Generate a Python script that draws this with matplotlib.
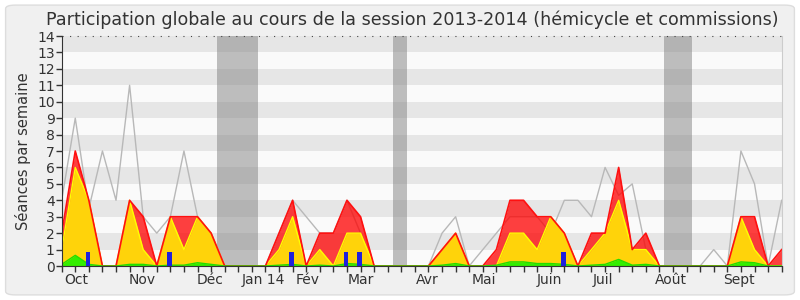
import numpy as np
import matplotlib
matplotlib.use("Agg")
import matplotlib.pyplot as plt
from matplotlib.patches import FancyBboxPatch

# weekly values, session 2013-2014 (one point per week)
weeks = np.arange(54)

# median of all deputies (gray line)
mediane = [4, 9, 3.5, 7, 4, 11, 3, 2, 3, 7, 3, 2, 0, 0, 0, 0, 2, 4, 3, 2,
           2, 4, 2, 0, 0, 0, 0, 0, 2, 3, 0, 1, 2, 3, 3, 3, 2, 4, 4, 3,
           6, 4.3, 5, 1, 0, 0, 0, 0, 1, 0, 7, 5, 0, 4]
# total presence, hemicycle + commissions (red)
presences = [2, 7, 4, 0, 0, 4, 3, 0, 3, 3, 3, 2, 0, 0, 0, 0, 2, 4, 0, 2,
             2, 4, 3, 0, 0, 0, 0, 0, 1, 2, 0, 0, 1, 4, 4, 3, 3, 2, 0, 2,
             2, 6, 1, 2, 0, 0, 0, 0, 0, 0, 3, 3, 0, 1]
# hemicycle presence (yellow)
hemicycle = [1, 6, 4, 0, 0, 4, 1, 0, 3, 1, 3, 2, 0, 0, 0, 0, 1, 3, 0, 1,
             0, 2, 2, 0, 0, 0, 0, 0, 1, 2, 0, 0, 0, 2, 2, 1, 3, 2, 0, 1,
             2, 4, 1, 1, 0, 0, 0, 0, 0, 0, 3, 1, 0, 0]
# interventions (green)
interventions = [0.1, 0.65, 0.1, 0, 0, 0.1, 0.1, 0, 0.05, 0.05, 0.2, 0.1, 0, 0, 0, 0, 0.05, 0.1, 0, 0.05,
                 0, 0.15, 0.1, 0, 0, 0, 0, 0, 0.05, 0.15, 0, 0, 0.05, 0.25, 0.25, 0.15, 0.15, 0.1, 0, 0.05,
                 0.1, 0.4, 0.05, 0.1, 0, 0, 0, 0, 0, 0, 0.25, 0.2, 0, 0]
# oral questions (blue bars)
questions_semaines = [2, 8, 17, 21, 22, 37]
questions_hauteur = [0.87, 0.87, 0.87, 0.87, 0.87, 0.87]

# parliamentary holidays (week index start, end)
vacances = [(11.43, 14.43), (24.42, 25.4), (44.35, 46.38)]

mois = ["Oct", "Nov", "Déc", "Jan 14", "Fév", "Mar", "Avr", "Mai", "Juin", "Juil", "Août", "Sept"]
mois_pos = [1.1, 5.93, 10.92, 14.84, 18.11, 22.03, 26.91, 31.09, 35.87, 39.87, 44.83, 49.88]

txt = "#333333"

fig = plt.figure(figsize=(8, 3), dpi=100, facecolor="white")
fig.patches.append(FancyBboxPatch((0.007, 0.017), 0.986, 0.966, boxstyle="round,pad=0,rounding_size=0.012",
                                  transform=fig.transFigure, facecolor="#F0F0F0", edgecolor="#DDDDDD",
                                  linewidth=1, zorder=-10))
ax = fig.add_axes([0.0771, 0.1133, 0.9, 0.7667])
ax.set_facecolor("#FAFAFA")

# alternating stripes
for k in range(14):
    ax.axhspan(k, k + 1, color="#E6E6E6" if k % 2 else "#FAFAFA", lw=0, zorder=0)
for a, b in vacances:
    ax.axvspan(a, b, color="#828282", alpha=0.5, lw=0, zorder=1)
ax.axhline(14, color="#444444", ls=(0, (1, 5.8)), lw=0.8, zorder=6, clip_on=False)

ax.plot(weeks, mediane, color="#B8B8B8", lw=1, zorder=2)
ax.fill_between(weeks, 0, presences, color="#FF0000", alpha=0.75, lw=0, zorder=3)
ax.fill_between(weeks, 0, hemicycle, color="#FFD30A", lw=0, zorder=3.1)
ax.plot(weeks, hemicycle, color="#FFFF00", lw=1, zorder=3.2)
ax.plot(weeks, presences, color="#FF1010", lw=1.2, zorder=3.3)
ax.fill_between(weeks, 0, interventions, color="#33EE00", lw=0, zorder=3.4)
ax.plot(weeks, interventions, color="#22DD00", lw=1, zorder=3.5)
ax.bar(np.array(questions_semaines) - 0.07, questions_hauteur, width=0.33, color="#2020DD", zorder=4)

ax.set_xlim(0, 53)
ax.set_ylim(0, 14)
ax.set_yticks(range(15))
ax.set_xticks(weeks, minor=True)
ax.set_xticks(mois_pos)
ax.set_xticklabels(mois)
ax.tick_params(axis="x", which="major", length=0, pad=5, labelsize=10, labelcolor=txt)
ax.tick_params(axis="x", which="minor", length=4, width=1, color="#333333")
ax.tick_params(axis="y", length=4, width=1, color="#333333", labelsize=10, labelcolor=txt, pad=1)

ax.spines["top"].set_visible(False)
ax.spines["right"].set_color("#CCCCCC")
ax.spines["left"].set_color("#333333")
ax.spines["bottom"].set_color("#333333")
for s in ax.spines.values():
    s.set_zorder(7)

ax.set_ylabel("Séances par semaine", fontsize=10.5, color=txt, labelpad=4)
fig.text(0.515, 0.935, "Participation globale au cours de la session 2013-2014 (hémicycle et commissions)",
         ha="center", va="center", fontsize=12.6, color=txt)

fig.savefig("out.png", dpi=100, facecolor="white")
